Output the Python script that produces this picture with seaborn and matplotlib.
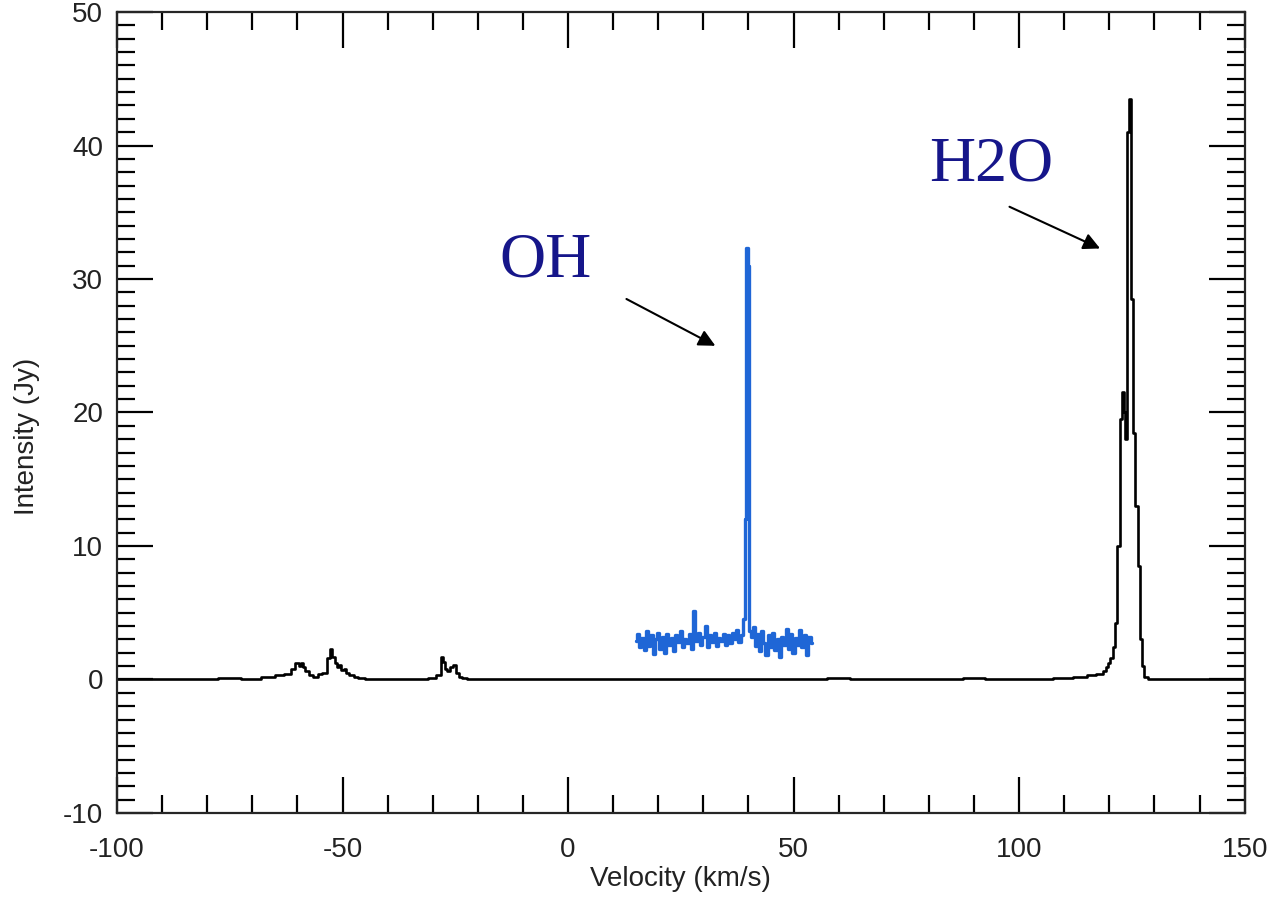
import matplotlib
matplotlib.use('Agg')
import matplotlib.pyplot as plt
import seaborn as sns
import pandas as pd
from matplotlib.ticker import MultipleLocator

# H2O spectrum (black), velocity in km/s, intensity in Jy
h2o_vel = [-100, -95, -90, -85, -80, -75, -70, -66, -64, -62, -61, -60, -59.5, -59, -58.5, -58,
           -57, -56, -55, -54, -53, -52.5, -52, -51.5, -51, -50.5, -50, -49.5, -49, -48, -47,
           -46, -44, -40, -36, -32, -30, -28.5, -28, -27.5, -27, -26.5, -26, -25, -24.5, -24,
           -23, -22, -18, -14, -10, -5, 0, 5, 10, 15, 20, 25, 30, 35, 40, 45, 50, 55, 60,
           65, 70, 75, 80, 85, 90, 95, 100, 105, 110, 114, 116, 118, 119, 119.5, 120, 120.5,
           121, 121.5, 122, 122.5, 123, 123.3, 123.6, 124, 124.5, 125, 125.5, 126, 126.5,
           127, 127.5, 128, 129, 131, 135, 140, 145, 150]
h2o_int = [0.0, 0.05, 0.0, 0.05, 0.0, 0.1, 0.05, 0.15, 0.3, 0.4, 0.8, 1.2, 1.0, 1.2, 0.9, 0.6,
           0.3, 0.2, 0.4, 0.5, 1.6, 2.3, 1.7, 1.2, 0.9, 1.1, 0.7, 0.8, 0.5, 0.3, 0.2,
           0.1, 0.05, 0.0, 0.05, 0.0, 0.1, 0.3, 1.7, 1.3, 0.8, 0.6, 0.9, 1.1, 0.5, 0.2,
           0.1, 0.0, 0.05, 0.0, 0.0, 0.05, 0.0, 0.0, 0.05, 0.0, 0.0, 0.05, 0.0, 0.05, 0.0, 0.0, 0.05, 0.0, 0.1,
           0.0, 0.05, 0.0, 0.0, 0.05, 0.1, 0.05, 0.0, 0.05, 0.1, 0.2, 0.3, 0.4, 0.6, 0.9, 1.2, 1.6,
           2.4, 4.2, 10.0, 19.5, 21.5, 20.0, 18.0, 41.0, 43.5, 28.5, 18.5, 13.0, 8.5,
           3.0, 1.0, 0.2, 0.05, 0.0, 0.05, 0.0, 0.0, 0.0]

# OH spectrum (blue)
oh_vel = [15.0, 15.5, 16.0, 16.5, 17.0, 17.5, 18.0, 18.5, 19.0, 19.5, 20.0, 20.5, 21.0, 21.5,
          22.0, 22.5, 23.0, 23.5, 24.0, 24.5, 25.0, 25.5, 26.0, 26.5, 27.0, 27.5, 28.0, 28.5,
          29.0, 29.5, 30.0, 30.5, 31.0, 31.5, 32.0, 32.5, 33.0, 33.5, 34.0, 34.5, 35.0, 35.5,
          36.0, 36.5, 37.0, 37.5, 38.0, 38.5, 39.0, 39.4, 39.7, 40.0, 40.4, 40.8, 41.2, 41.6,
          42.0, 42.5, 43.0, 43.5, 44.0, 44.5, 45.0, 45.5, 46.0, 46.5, 47.0, 47.5, 48.0, 48.5,
          49.0, 49.5, 50.0, 50.5, 51.0, 51.5, 52.0, 52.5, 53.0, 53.5, 54.0]
oh_int = [2.9, 3.4, 2.4, 3.1, 2.2, 3.6, 2.5, 3.3, 1.9, 3.0, 3.5, 2.3, 3.2, 2.0,
          3.4, 2.6, 3.1, 2.1, 3.3, 2.8, 3.6, 2.4, 3.0, 2.7, 3.4, 2.3, 5.1, 2.9,
          3.5, 2.6, 3.2, 4.0, 2.4, 3.3, 2.8, 3.5, 2.5, 3.1, 2.9, 3.4, 2.6, 3.3,
          2.7, 3.5, 3.0, 3.7, 2.8, 3.3, 4.5, 12.0, 32.3, 31.0, 3.6, 3.2, 3.9, 2.5,
          3.4, 2.1, 3.6, 2.7, 1.8, 3.3, 2.4, 3.5, 2.2, 3.0, 1.7, 3.2, 2.6, 3.8,
          2.3, 3.4, 2.0, 3.1, 2.6, 3.7, 2.4, 3.3, 1.8, 3.2, 2.7]

h2o = pd.DataFrame({'vel': h2o_vel, 'inten': h2o_int})
oh = pd.DataFrame({'vel': oh_vel, 'inten': oh_int})

sns.set_theme(style='ticks')
plt.rcParams['font.family'] = ['Liberation Sans', 'DejaVu Sans']
plt.rcParams['axes.unicode_minus'] = False

fig, ax = plt.subplots(figsize=(12.74, 8.98), dpi=100)
fig.subplots_adjust(left=0.0918, right=0.977, top=0.9866, bottom=0.0947)

sns.lineplot(data=h2o, x='vel', y='inten', ax=ax, color='black', lw=1.9,
             drawstyle='steps-mid', estimator=None, sort=False)
sns.lineplot(data=oh, x='vel', y='inten', ax=ax, color='#1f66d6', lw=2.4,
             drawstyle='steps-mid', estimator=None, sort=False)

ax.set_xlim(-100, 150)
ax.set_ylim(-10, 50)
ax.xaxis.set_major_locator(MultipleLocator(50))
ax.xaxis.set_minor_locator(MultipleLocator(10))
ax.yaxis.set_major_locator(MultipleLocator(10))
ax.yaxis.set_minor_locator(MultipleLocator(1))
ax.tick_params(which='both', direction='in', top=True, right=True, width=1.6,
               colors='black', labelcolor='#222222', labelsize=20)
ax.tick_params(which='major', length=26)
ax.tick_params(which='minor', length=13)
ax.tick_params(axis='x', which='major', pad=17)
ax.tick_params(axis='y', which='major', pad=10)
for s in ax.spines.values():
    s.set_linewidth(1.6)
    s.set_visible(True)

ax.set_xlabel('Velocity (km/s)', fontsize=20, color='#222222')
ax.set_ylabel('Intensity (Jy)', fontsize=20, color='#222222')
ax.xaxis.set_label_coords(0.5, -0.066)
ax.yaxis.set_label_coords(-0.068, 0.47)

ax.annotate('', xy=(33.2, 24.9), xytext=(12.4, 28.6),
            arrowprops=dict(arrowstyle='-|>', color='black', lw=1.5, mutation_scale=25))
ax.annotate('', xy=(118.5, 32.2), xytext=(97.3, 35.5),
            arrowprops=dict(arrowstyle='-|>', color='black', lw=1.5, mutation_scale=25))
ax.text(-5.1, 31.3, 'OH', fontsize=46, color='#16168a', family='Liberation Serif',
        ha='center', va='center')
ax.text(93.9, 38.5, 'H2O', fontsize=46, color='#16168a', family='Liberation Serif',
        ha='center', va='center')

plt.savefig('out.png', dpi=100)
